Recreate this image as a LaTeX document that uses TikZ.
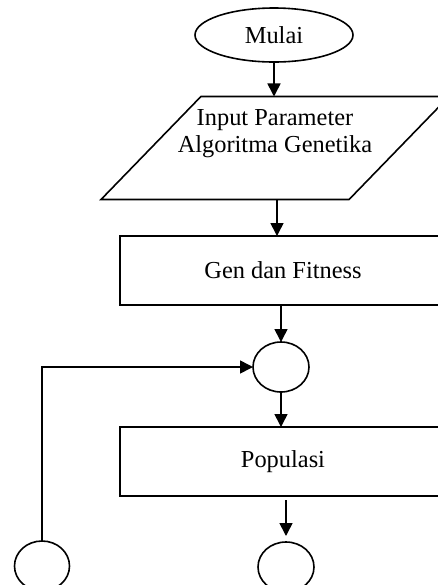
\documentclass[tikz,border=0pt]{standalone}
\usepackage{fontspec}
\setmainfont{Liberation Serif}
\usetikzlibrary{
	arrows.meta,
	positioning,
	calc,
	shapes.geometric
}

\begin{document}
\begin{tikzpicture}[x=0.5pt,y=-0.5pt,
		>={Triangle[length=6.5pt,width=6.5pt]},
		every node/.style={font=\fontsize{12.2}{13.5}\selectfont,line width=0.8pt,inner sep=0pt,outer sep=0pt},
		terminal/.style={draw,ellipse,minimum width=79pt,minimum height=27pt},
		io/.style={draw,trapezium,trapezium left angle=56,trapezium right angle=124,
			trapezium stretches=true,inner sep=2pt,minimum width=174pt,minimum height=51.5pt},
		proc/.style={draw,rectangle,minimum width=163pt,minimum height=34.5pt},
		conn/.style={draw,ellipse,minimum width=28pt,minimum height=25pt},
		arr/.style={->,line width=0.8pt}]
		
		\useasboundingbox (0,0) rectangle (438,585);
		\clip (0,0) rectangle (438,585);
		
		% Main column
		\node[terminal] (mulai) at (274,35) {Mulai};
		\node[io] (param) at (275,148) {};
		\node[align=center] (paramtext) at ([yshift=7pt]param.center) {Input Parameter\\Algoritma Genetika};
		\node[proc] (gen) at (283,270.5) {Gen dan Fitness};
		\node[conn] (mid) at (281,367) {};
		\node[proc] (pop) at (283,461.5) {Populasi};
		\node[conn] (akhir) at (286,567) {};
		
		% Loop back
		\node[conn,minimum width=27.5pt] (balik) at (42,566) {};
		
		\draw[arr] (mulai) -- (mulai |- param.north);
		\draw[arr] (param.south -| mulai) ++(3,0) coordinate (p1) -- (p1 |- gen.north);
		\draw[arr] (mid |- gen.south) -- (mid.north);
		\draw[arr] (mid) -- (mid |- pop.north);
		\draw[arr,shorten <=2pt,shorten >=3pt] (akhir |- pop.south) -- (akhir.north);
		\draw[arr] (balik.north) |- (mid.west);
		
	\end{tikzpicture}
\end{document}
